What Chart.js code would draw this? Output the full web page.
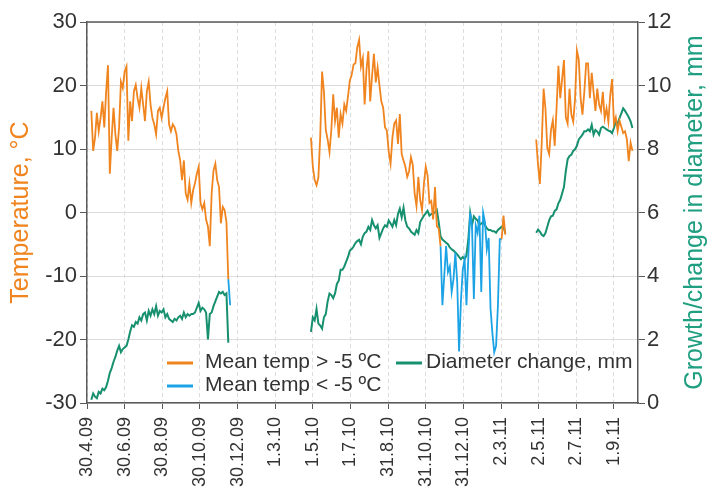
<!DOCTYPE html>
<html>
<head>
<meta charset="utf-8">
<script src="https://cdn.jsdelivr.net/npm/chart.js@4"></script>
<style>
    body { margin: 0; background: #fff; }
    #grafico { display: block; }
</style>
</head>
<body>
<canvas id="grafico" width="711" height="491"></canvas>
<script>
// eixo x em dias contados a partir de 30.4.09; cada trecho tem um valor a cada PASSO dias
const PASSO = 3;

const diasDosRotulos = [0, 61, 122, 183, 244, 305, 366, 427, 488, 549, 610, 671, 732, 793, 854];
const rotulosDoEixoX = ["30.4.09", "30.6.09", "30.8.09", "30.10.09", "30.12.09", "1.3.10", "1.5.10", "1.7.10",
    "31.8.10", "31.10.10", "31.12.10", "2.3.11", "2.5.11", "2.7.11", "1.9.11"];

// temperatura media > -5 ºC (laranja)
const inicioTemp2009 = 7;
const temp2009 = [16.0, 9.7, 11.8, 15.7, 12.8, 14.9, 17.5, 13.4, 19, 23.2,
    6.1, 11.8, 16.5, 12.3, 9.7, 13.4, 20.6, 19.6, 22.2, 23,
    11.3, 17.5, 14.4, 19.1, 20.1, 18, 16.5, 19.6, 17, 14.4,
    19.1, 20.6, 17, 14.9, 13.9, 12.3, 16, 16.5, 14.9, 16.5,
    18, 19.1, 13.9, 12.8, 13.9, 13.4, 12.3, 9.7, 8.2, 5.1,
    8.2, 3, 2, 4.6, 1.5, 3.5, 4.6, 6.1, 7.2, 1.5,
    0.5, 1.5, -1.1, -2.2, -5.3, 3, 6.6, 7.7, 5.1, 4,
    -1.7, 0.9, 0.4, -1.5, -10.5];

const inicioTemp2010 = 363;
const temp2010 = [11.8, 7.2, 5.1, 4.3, 5.5, 12, 22.2, 19, 13, 11.5,
    9.5, 13, 18.6, 14.4, 16.5, 11.8, 15.5, 14, 17, 16,
    18.3, 20.8, 21.7, 23.3, 23.5, 26, 27.2, 23, 24.3, 17,
    22.5, 25.4, 17.5, 21.5, 25, 20.5, 22.8, 20, 17.5, 16.5,
    13.4, 12.9, 9.6, 7.7, 11.8, 14, 14.5, 10.8, 15.5, 9.2,
    8.2, 7.2, 5.6, 6.5, 8.7, 7.5, 3, 1, 5.6, 2,
    0.4, 4.5, 7.2, 5.8, 1.5, 1.8, -1.1, 4, -2.2, -2.5,
    -5.3];

const inicioTempMar2011 = 672;
const tempMar2011 = [-4.2, -0.5, -3.5];

const inicioTemp2011 = 728;
const temp2011 = [11.5, 7.5, 4.5, 11, 19.5, 16.4, 10.2, 9.2, 13, 14.5,
    10.5, 16.4, 23.1, 18, 21, 24, 15, 14, 19.5, 15.4,
    14.3, 17.9, 25.5, 24.1, 18, 15.4, 19, 23.5, 23.5, 18,
    22, 19, 16, 19.5, 17, 16, 19, 14.8, 16.4, 14.3,
    18.5, 21, 14, 15, 12.8, 14.5, 13.5, 12.5, 12.8, 11.5,
    8.1, 11, 9.7];

// temperatura media < -5 ºC (azul)
const inicioFrio2009 = 229;
const frio2009 = [-10.5, -14.6];

const inicioFrio2010 = 573;
const frio2010 = [-5.3, -14.6, -10, -5.3, -9.4, -8.5, -12.5, -10.5, -6.3, -11,
    -21.9, -14, -9, -7.4, -14.6, -7, 0, -2.2, -13.6, -2,
    -3.2, -0.5, -12.5, 0, -1.5, -5.8, -4, -15.1, -19, -22,
    -21, -14.6, -4.2, -4.2];

// variacao do diametro, mm (verde)
const inicioDiam2009 = 7;
const diam2009 = [0.1, 0.3, 0.2, 0.15, 0.35, 0.3, 0.45, 0.4, 0.5, 0.7,
    0.95, 1.1, 1.3, 1.45, 1.65, 1.8, 1.6, 1.7, 1.75, 1.8,
    2.0, 2.25, 2.45, 2.4, 2.55, 2.5, 2.7, 2.6, 2.8, 2.85,
    2.6, 2.9, 2.75, 2.95, 2.8, 3.05, 2.75, 2.9, 2.85, 2.95,
    2.7, 2.8, 2.65, 2.6, 2.55, 2.65, 2.6, 2.7, 2.75, 2.65,
    2.85, 2.7, 2.8, 2.75, 2.8, 2.8, 2.85, 3.0, 3.15, 2.9,
    3.0, 2.95, 2.85, 2.0, 2.8, 2.85, 3.05, 3.2, 3.35, 3.5,
    3.45, 3.5, 3.4, 3.45, 1.9];

const inicioDiam2010 = 363;
const diam2010 = [2.24, 2.7, 2.6, 2.96, 2.5, 2.44, 2.34, 2.7, 2.8, 3.2,
    3.45, 3.4, 3.3, 3.45, 3.75, 3.85, 4.2, 4.2, 4.3, 4.45,
    4.6, 4.8, 4.85, 4.93, 5.04, 5.1, 5.14, 5.0, 5.24, 5.35,
    5.4, 5.55, 5.45, 5.76, 5.6, 5.5, 5.6, 5.2, 5.35, 5.5,
    5.6, 5.55, 5.75, 5.65, 5.55, 5.76, 5.6, 5.95, 6.12, 5.85,
    6.15, 5.75, 5.55, 5.5, 5.4, 5.35, 5.3, 5.45, 5.35, 5.7,
    5.8, 5.9, 5.97, 6.05, 5.9, 5.95, 5.97, 6.0, 6.08, 5.7,
    5.25, 5.15, 5.1, 5.05, 5.0, 4.9, 4.84, 4.8, 4.74, 4.68,
    4.6, 4.53, 4.6, 4.53, 4.65, 5.15, 5.98, 5.6, 5.88, 5.8,
    5.75, 5.6, 5.65, 5.7, 5.6, 5.5, 5.45, 5.45, 5.41, 5.41,
    5.36, 5.45, 5.5, 5.55, 5.56, 5.35];

const inicioDiam2011 = 728;
const diam2011 = [5.36, 5.46, 5.4, 5.3, 5.26, 5.35, 5.55, 5.75, 5.88, 5.9,
    6.05, 6.1, 6.29, 6.4, 6.6, 6.8, 7.3, 7.68, 7.78, 7.82,
    7.94, 7.99, 8.1, 8.3, 8.37, 8.45, 8.56, 8.56, 8.62, 8.56,
    8.76, 8.45, 8.6, 8.55, 8.45, 8.66, 8.7, 8.66, 8.62, 8.58,
    8.56, 8.5, 8.66, 8.87, 8.8, 8.97, 9.12, 9.28, 9.2, 9.1,
    9.0, 8.87, 8.66];

const corLaranja = "#F0841F";
const corAzul = "#1BA3E6";
const corVerde = "#17906F";
const corTituloVerde = "#1F9E80";
const corTexto = "#333333";
const corEixo = "#5a5a5a";
const corGrade = "#dcdcdc";
const fonte = '"Liberation Sans", Arial, sans-serif';

function trecho(inicio, valores) {
    return valores.map((v, i) => ({ x: inicio + i * PASSO, y: v }));
}

// junta os trechos com um ponto nulo entre eles para a linha ser interrompida
function juntarTrechos(...trechos) {
    const pontos = [];
    trechos.forEach((t, i) => {
        if (i > 0) pontos.push({ x: t[0].x - 1, y: null });
        pontos.push(...t);
    });
    return pontos;
}

const molduraPlugin = {
    id: "moldura",
    afterDraw(chart) {
        const { ctx, chartArea } = chart;
        ctx.save();
        ctx.strokeStyle = corEixo;
        ctx.lineWidth = 1.5;
        ctx.beginPath();
        ctx.moveTo(chartArea.left, chartArea.top);
        ctx.lineTo(chartArea.right, chartArea.top);
        ctx.stroke();

        // titulo do eixo da direita, lido de baixo para cima
        ctx.translate(695, (chartArea.top + chartArea.bottom) / 2);
        ctx.rotate(-Math.PI / 2);
        ctx.fillStyle = corTituloVerde;
        ctx.font = `25px ${fonte}`;
        ctx.textAlign = "center";
        ctx.textBaseline = "middle";
        ctx.fillText("Growth/change in diameter, mm", 0, 0);
        ctx.restore();
    }
};

const legendaPlugin = {
    id: "legenda",
    afterDraw(chart) {
        const ctx = chart.ctx;
        const itens = [
            { ds: 0, x: 167, y: 362 },
            { ds: 1, x: 167, y: 385 },
            { ds: 2, x: 396, y: 362 }
        ];
        ctx.save();
        ctx.font = `21px ${fonte}`;
        ctx.textBaseline = "middle";
        ctx.fillStyle = corTexto;
        itens.forEach(item => {
            const ds = chart.data.datasets[item.ds];
            ctx.strokeStyle = ds.borderColor;
            ctx.lineWidth = 3;
            ctx.beginPath();
            ctx.moveTo(item.x, item.y + 1);
            ctx.lineTo(item.x + 26, item.y + 1);
            ctx.stroke();
            ctx.fillText(ds.label, item.x + (item.ds == 2 ? 30 : 38), item.y);
        });
        ctx.restore();
    }
};

Chart.defaults.font.family = fonte;
Chart.defaults.color = corTexto;

const ctx = document.querySelector("#grafico");

new Chart(ctx, {
    type: "line",
    data: {
        datasets: [
            {
                label: "Mean temp > -5 ºC",
                data: juntarTrechos(trecho(inicioTemp2009, temp2009), trecho(inicioTemp2010, temp2010),
                    trecho(inicioTempMar2011, tempMar2011), trecho(inicioTemp2011, temp2011)),
                yAxisID: "y",
                borderColor: corLaranja,
                borderWidth: 1.8,
                pointRadius: 0,
                spanGaps: false
            },
            {
                label: "Mean temp < -5 ºC",
                data: juntarTrechos(trecho(inicioFrio2009, frio2009), trecho(inicioFrio2010, frio2010)),
                yAxisID: "y",
                borderColor: corAzul,
                borderWidth: 1.8,
                pointRadius: 0,
                spanGaps: false
            },
            {
                label: "Diameter change, mm",
                data: juntarTrechos(trecho(inicioDiam2009, diam2009), trecho(inicioDiam2010, diam2010),
                    trecho(inicioDiam2011, diam2011)),
                yAxisID: "y2",
                borderColor: corVerde,
                borderWidth: 2,
                pointRadius: 0,
                spanGaps: false
            }
        ]
    },
    options: {
        responsive: false,
        animation: false,
        devicePixelRatio: 1,
        layout: { padding: { top: 22, left: 0, right: 0, bottom: 0 } },
        plugins: {
            legend: { display: false },
            tooltip: { enabled: false }
        },
        scales: {
            x: {
                type: "linear",
                min: 0,
                max: 893,
                afterBuildTicks: escala => {
                    escala.ticks = diasDosRotulos.map(d => ({ value: d }));
                },
                afterFit: escala => { escala.height = 88; },
                ticks: {
                    autoSkip: false,
                    minRotation: 90,
                    maxRotation: 90,
                    padding: 8,
                    font: { size: 18 },
                    callback: (valor, indice) => rotulosDoEixoX[indice]
                },
                grid: { color: corGrade, tickColor: corEixo, tickLength: 6 },
                border: { color: corEixo, width: 1.5, dash: [4, 3] }
            },
            y: {
                position: "left",
                min: -30,
                max: 30,
                afterFit: escala => { escala.width = 87; },
                ticks: { stepSize: 10, padding: 3, font: { size: 22 } },
                grid: { color: corGrade, tickColor: corEixo, tickLength: 7 },
                border: { color: corEixo, width: 1.5 },
                title: {
                    display: true,
                    text: "Temperature, °C",
                    color: corLaranja,
                    font: { size: 25 },
                    padding: { top: 6, bottom: 0 }
                }
            },
            y2: {
                position: "right",
                min: 0,
                max: 12,
                afterFit: escala => { escala.width = 73; },
                ticks: { stepSize: 2, padding: 2, font: { size: 22 } },
                grid: { drawOnChartArea: false, tickColor: corEixo, tickLength: 7 },
                border: { color: corEixo, width: 1.5 }
            }
        }
    },
    plugins: [molduraPlugin, legendaPlugin]
});
</script>
</body>
</html>
